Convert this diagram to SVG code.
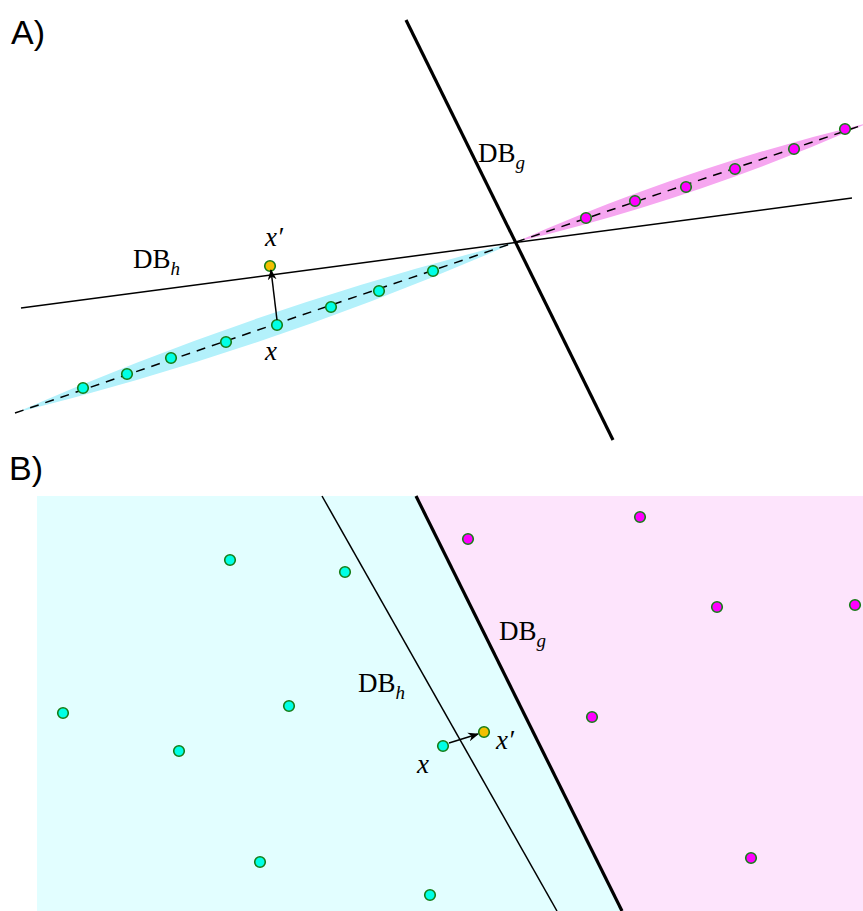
<svg xmlns="http://www.w3.org/2000/svg" width="863" height="911" viewBox="0 0 863 911">
<defs>
<style>
.pc{fill:#00ffe6;stroke:#167d16;stroke-width:1.6}
.pm{fill:#ff00ff;stroke:#167d16;stroke-width:1.6}
.py{fill:#f2c000;stroke:#167d16;stroke-width:1.6}
.thick{stroke:#000;stroke-width:3.2;fill:none}
.thin{stroke:#000;stroke-width:1.5;fill:none}
.dash{stroke:#000;stroke-width:1.5;stroke-dasharray:9,7;fill:none}
.lab{font-family:"Liberation Sans",Arial,sans-serif;font-size:34px;fill:#000}
.math{font-family:"Liberation Serif","DejaVu Serif",serif;font-size:27px;fill:#000}
.it{font-style:italic}
</style>
<marker id="ah" viewBox="0 0 10 10" refX="9" refY="5" markerWidth="11" markerHeight="11" orient="auto" markerUnits="userSpaceOnUse">
<path d="M0,1 L10,5 L0,9 L3,5 z" fill="#000"/>
</marker>
</defs>

<!-- Panel A -->
<text class="lab" x="11" y="44">A)</text>
<g id="bands-a">
<path d="M15,413 Q272,349 516,242 Q259,306 15,413 Z" fill="#b3f1fb"/>
<path d="M516,242 Q696,199 868,123 Q688,166 516,242 Z" fill="#f6a6f0"/>
</g>
<g id="connectors-a">
<line class="dash" x1="15" y1="413" x2="516" y2="242"/>
<line class="dash" x1="516" y1="242" x2="863" y2="125"/>
<line class="thick" x1="406" y1="20" x2="613" y2="440"/>
<line class="thin" x1="21" y1="308" x2="852" y2="198"/>
</g>
<g id="points-a">
<circle class="pc" cx="83" cy="388" r="5.3"/>
<circle class="pc" cx="127" cy="374" r="5.3"/>
<circle class="pc" cx="171" cy="358" r="5.3"/>
<circle class="pc" cx="226" cy="342" r="5.3"/>
<circle class="pc" cx="277" cy="325" r="5.3"/>
<circle class="pc" cx="331" cy="307" r="5.3"/>
<circle class="pc" cx="379" cy="291" r="5.3"/>
<circle class="pc" cx="433" cy="271" r="5.3"/>
<circle class="pm" cx="586" cy="218" r="5.3"/>
<circle class="pm" cx="635" cy="201" r="5.3"/>
<circle class="pm" cx="686" cy="187" r="5.3"/>
<circle class="pm" cx="735" cy="169" r="5.3"/>
<circle class="pm" cx="794" cy="149" r="5.3"/>
<circle class="pm" cx="845" cy="129" r="5.3"/>
<circle class="py" cx="270" cy="266" r="5.3"/>
</g>
<g id="arrow-a">
<line class="thin" x1="277" y1="320" x2="271" y2="270" marker-end="url(#ah)"/>
</g>
<g id="labels-a">
<text class="math" x="478" y="162">DB<tspan class="it" font-size="19" dy="7">g</tspan></text>
<text class="math" x="133" y="268">DB<tspan class="it" font-size="19" dy="7">h</tspan></text>
<text class="math it" x="265" y="246">x′</text>
<text class="math it" x="265" y="360">x</text>
</g>

<!-- Panel B -->
<text class="lab" x="9" y="480">B)</text>
<g id="regions-b">
<rect x="37" y="496" width="826" height="415" fill="#e2feff"/>
<path d="M416,496 L863,496 L863,911 L622,911 Z" fill="#fde4fc"/>
</g>
<g id="connectors-b">
<line class="thin" x1="322" y1="496" x2="557" y2="911"/>
<line class="thick" x1="416" y1="496" x2="622" y2="911"/>
</g>
<g id="points-b">
<circle class="pc" cx="230" cy="560" r="5.3"/>
<circle class="pc" cx="345" cy="572" r="5.3"/>
<circle class="pc" cx="63" cy="713" r="5.3"/>
<circle class="pc" cx="289" cy="706" r="5.3"/>
<circle class="pc" cx="179" cy="751" r="5.3"/>
<circle class="pc" cx="443" cy="746" r="5.3"/>
<circle class="pc" cx="260" cy="862" r="5.3"/>
<circle class="pc" cx="430" cy="895" r="5.3"/>
<circle class="pm" cx="468" cy="539" r="5.3"/>
<circle class="pm" cx="640" cy="517" r="5.3"/>
<circle class="pm" cx="717" cy="607" r="5.3"/>
<circle class="pm" cx="855" cy="605" r="5.3"/>
<circle class="pm" cx="592" cy="717" r="5.3"/>
<circle class="pm" cx="751" cy="858" r="5.3"/>
<circle class="py" cx="484" cy="732" r="5.3"/>
</g>
<g id="arrow-b">
<line class="thin" x1="449" y1="743" x2="478" y2="734" marker-end="url(#ah)"/>
</g>
<g id="labels-b">
<text class="math" x="499" y="640">DB<tspan class="it" font-size="19" dy="7">g</tspan></text>
<text class="math" x="358" y="692">DB<tspan class="it" font-size="19" dy="7">h</tspan></text>
<text class="math it" x="417" y="773">x</text>
<text class="math it" x="496" y="749">x′</text>
</g>
</svg>
